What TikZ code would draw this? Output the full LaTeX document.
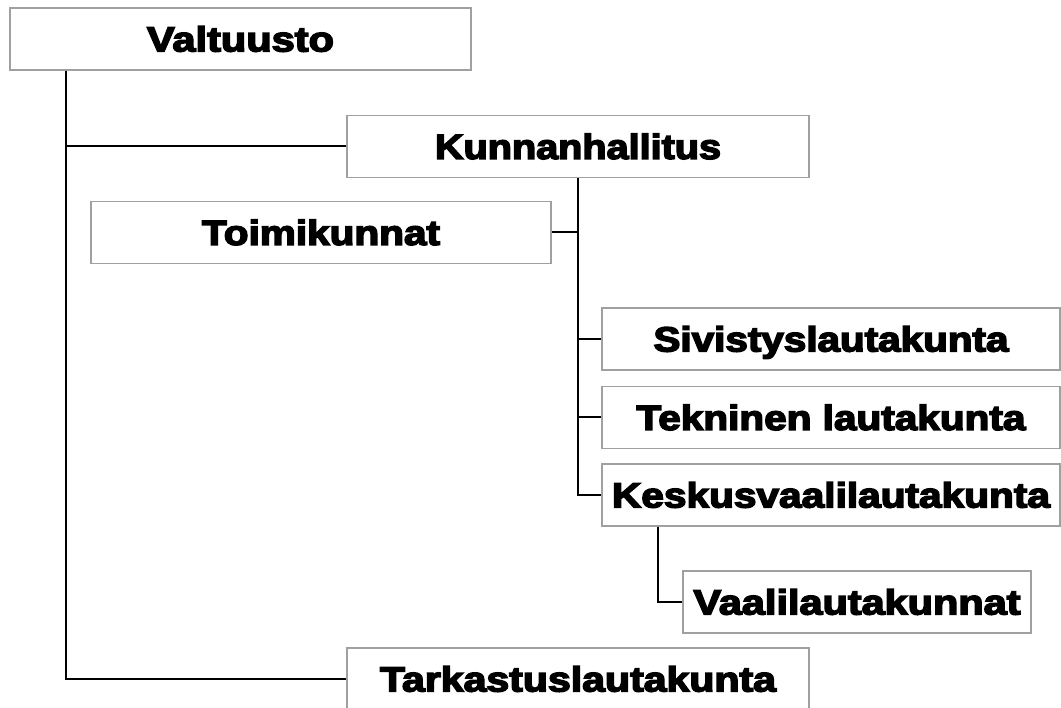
\documentclass[tikz,border=0pt]{standalone}
\usepackage{graphicx}
\usepackage{fontspec}
\newfontfamily\blk{Liberation Sans}[BoldFeatures={FakeBold=4}]
\newcommand\fitlab[2]{\resizebox{#1}{\height}{#2}}
\definecolor{boxgray}{HTML}{A0A0A0}
\tikzset{
  org/.style={draw=boxgray, line width=1.5pt, fill=white, minimum height=62pt,
    inner sep=0pt, text height=25pt, text depth=0pt,
    font=\blk\bfseries\fontsize{35}{38}\selectfont},
  conn/.style={draw=black, line width=2pt}
}
\begin{document}
\begin{tikzpicture}[x=1pt, y=-1pt]
\clip (0,0) rectangle (1061,708);
\fill[white] (0,0) rectangle (1061,708);

\node[org, minimum width=461pt] (valt) at (240.5,39) {\fitlab{187pt}{Valtuusto}};
\node[org, minimum width=462pt] (kunn) at (578,146.5) {\fitlab{286pt}{Kunnanhallitus}};
\node[org, minimum width=460pt] (toim) at (321,232.5) {\fitlab{238pt}{Toimikunnat}};
\node[org, minimum width=458pt] (sivi) at (831,339) {\fitlab{355pt}{Sivistyslautakunta}};
\node[org, minimum width=458pt] (tekn) at (831,417.5) {\fitlab{389pt}{Tekninen lautakunta}};
\node[org, minimum width=458pt] (kesk) at (831,495) {\fitlab{438pt}{Keskusvaalilautakunta}};
\node[org, minimum width=348pt] (vaal) at (857,602) {\fitlab{327pt}{Vaalilautakunnat}};
\node[org, minimum width=462pt] (tark) at (578,679) {\fitlab{396pt}{Tarkastuslautakunta}};

% Valtuusto branch
\draw[conn] (valt.south west) ++(57pt,0) coordinate (vx) |- (tark.west);
\draw[conn] (kunn.west) -| (vx);
% Kunnanhallitus branch
\draw[conn] (kunn.south) |- (kesk.west);
\draw[conn] (toim.east) -| (kunn.south);
\draw[conn] (sivi.west) -| (kunn.south);
\draw[conn] (tekn.west) -| (kunn.south);
% Keskusvaalilautakunta branch
\draw[conn] (kesk.south west) ++(57pt,0) |- (vaal.west);
\end{tikzpicture}
\end{document}
